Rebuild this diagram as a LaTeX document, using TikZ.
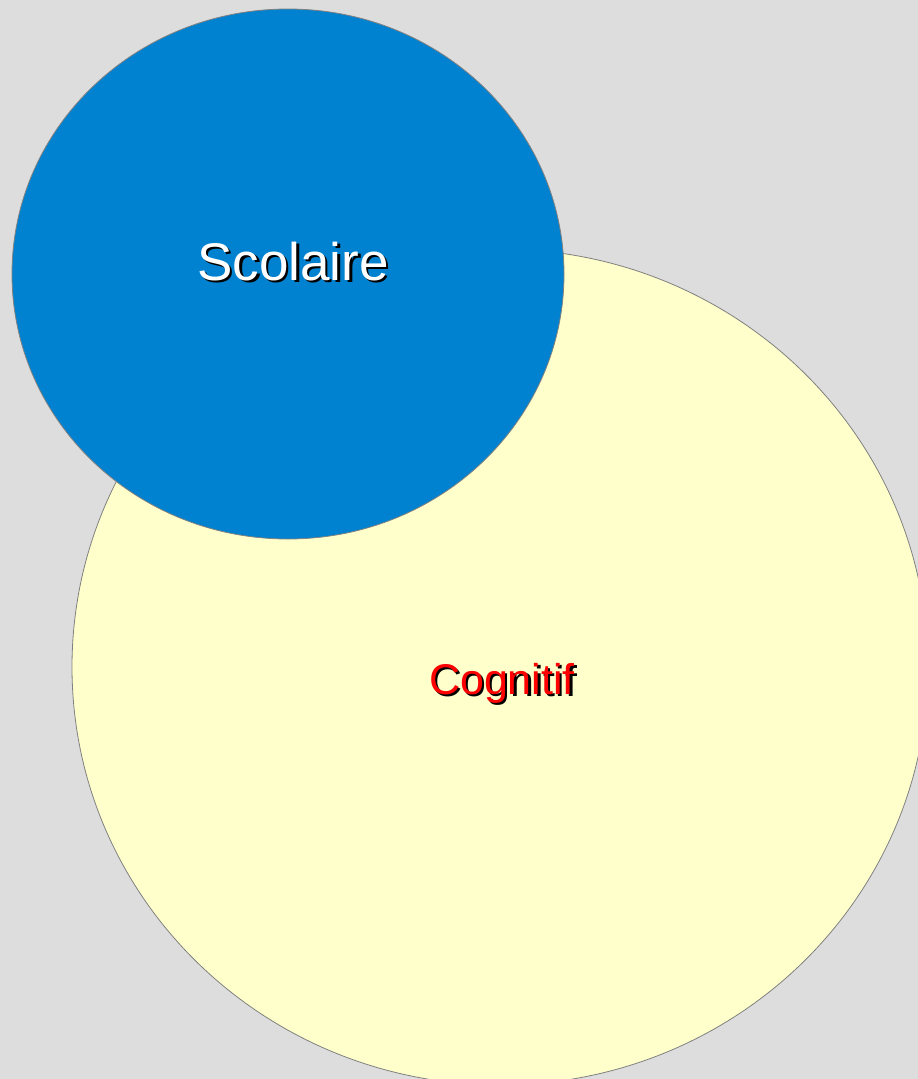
\documentclass[tikz,border=0pt]{standalone}
\usepackage{fontspec}
\setmainfont{Liberation Sans}
\usetikzlibrary{shapes.geometric}
\definecolor{bgc}{HTML}{DDDDDD}
\definecolor{bluec}{HTML}{0082D0}
\definecolor{yelc}{HTML}{FFFFCC}
\definecolor{edgec}{HTML}{808080}
\newcommand{\shadowed}[2]{\makebox[0pt][l]{\hspace{2.5pt}\raisebox{-2.5pt}{\color{black}#2}}{\color{#1}#2}}
\begin{document}
\begin{tikzpicture}[x=1pt,y=1pt,
  blob/.style={ellipse, draw=edgec, line width=0.8pt, inner sep=0pt},
  lbl/.style={anchor=base, inner sep=0pt}]
\useasboundingbox (0,0) rectangle (918,-1079);
\fill[bgc] (0,0) rectangle (918,-1079);
\begin{scope}
\clip (0,0) rectangle (918,-1079);
\node[blob, fill=yelc, minimum width=856, minimum height=836] (cog) at (500,-667) {};
\node[blob, fill=bluec, minimum width=552, minimum height=530] (sco) at (288,-274) {};
\end{scope}
\node[lbl, font=\fontsize{53}{63}\selectfont] (scoT) at (293,-280) {\shadowed{white}{Scolaire}};
\node[lbl, font=\fontsize{43}{52}\selectfont] (cogT) at (502,-694) {\shadowed{red}{Cognitif}};
\end{tikzpicture}
\end{document}
